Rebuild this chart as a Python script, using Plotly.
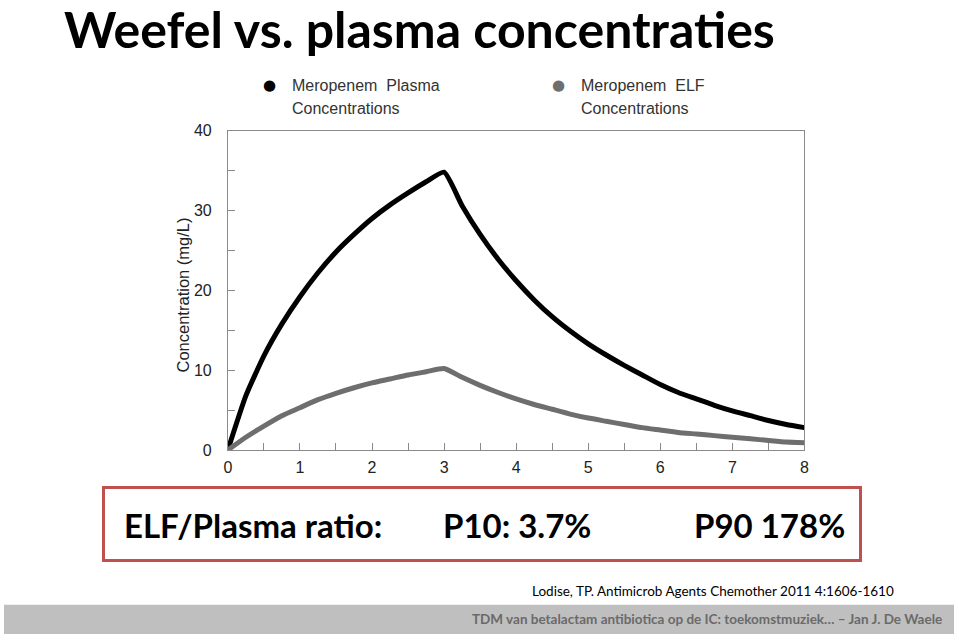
import plotly.graph_objects as go

W, H = 959, 643

# time grid (hours) and concentrations (mg/L)
hours = [0, 0.25, 0.5, 0.75, 1.0, 1.25, 1.5, 1.75, 2.0, 2.25, 2.5, 2.75, 3.0,
         3.25, 3.5, 3.75, 4.0, 4.25, 4.5, 4.75, 5.0, 5.25, 5.5, 5.75, 6.0,
         6.25, 6.5, 6.75, 7.0, 7.25, 7.5, 7.75, 8.0]
plasma = [0, 6.8, 11.8, 15.8, 19.2, 22.2, 24.8, 27.0, 29.0, 30.7, 32.2, 33.6, 34.8,
          30.6, 27.0, 23.9, 21.2, 18.8, 16.7, 14.9, 13.3, 11.9, 10.6, 9.4, 8.2,
          7.2, 6.4, 5.6, 4.9, 4.3, 3.7, 3.2, 2.8]
elf = [0, 1.6, 3.0, 4.3, 5.3, 6.3, 7.1, 7.8, 8.4, 8.9, 9.4, 9.8, 10.2,
       9.1, 8.1, 7.2, 6.4, 5.7, 5.1, 4.5, 4.0, 3.6, 3.2, 2.8, 2.5,
       2.2, 2.0, 1.8, 1.6, 1.4, 1.2, 1.0, 0.9]

x_ticks = [0, 1, 2, 3, 4, 5, 6, 7, 8]
y_ticks = [0, 10, 20, 30, 40]

title = "Weefel vs. plasma concentraties"
legend_lines = [["Meropenem  Plasma", "Concentrations"], ["Meropenem  ELF", "Concentrations"]]
ratio_texts = ["ELF/Plasma ratio:", "P10: 3.7%", "P90 178%"]
citation = "Lodise, TP. Antimicrob Agents Chemother 2011 4:1606-1610"
footer = "TDM van betalactam antibiotica op de IC: toekomstmuziek… – Jan J. De Waele"


def px(x, y):
    return x / W, 1 - y / H


fig = go.Figure()
fig.add_trace(go.Scatter(x=hours, y=plasma, mode="lines",
                         line=dict(color="#000000", width=5, shape="spline", smoothing=0.5),
                         showlegend=False))
fig.add_trace(go.Scatter(x=hours, y=elf, mode="lines",
                         line=dict(color="#6e6e6e", width=5, shape="spline", smoothing=0.5),
                         showlegend=False))

axis_common = dict(showgrid=False, zeroline=False, showline=True, mirror=True,
                   linecolor="#8a8a8a", linewidth=1, ticks="inside", ticklen=7,
                   tickcolor="#8a8a8a", tickwidth=1,
                   tickfont=dict(family="Liberation Sans, Arial", size=16, color="#222222"))

fig.update_layout(
    autosize=True,
    margin=dict(l=0, r=0, t=0, b=0),
    paper_bgcolor="white", plot_bgcolor="white",
    xaxis=dict(domain=[226 / W, 808 / W], range=[0, 8], tickvals=x_ticks,
               ticklabelstandoff=3,
               minor=dict(dtick=0.5, ticks="inside", ticklen=7, tickcolor="#8a8a8a"),
               **axis_common),
    yaxis=dict(domain=[1 - 454 / H, 1 - 126 / H], range=[0, 40], tickvals=y_ticks,
               ticklabelstandoff=12,
               minor=dict(dtick=5, ticks="inside", ticklen=7, tickcolor="#8a8a8a"),
               **axis_common),
)

ann = []
# slide title
x, y = px(59, 22)
ann.append(dict(x=x, y=y, text=f"<b>{title}</b>", xanchor="left", yanchor="middle",
                font=dict(family="Lato", size=50, color="#000000")))

# legend (dots + two-line labels)
for dot_x, txt_x, lines, col in [(268, 289, legend_lines[0], "#000000"),
                                 (560, 580, legend_lines[1], "#6e6e6e")]:
    x, y = px(dot_x, 79)
    ann.append(dict(x=x, y=y, text="●", xanchor="center", yanchor="middle",
                    font=dict(family="DejaVu Sans", size=15, color=col)))
    for line, ly in zip(lines, [80, 103]):
        x, y = px(txt_x, ly)
        ann.append(dict(x=x, y=y, text=line, xanchor="left", yanchor="middle",
                        font=dict(family="Liberation Sans, Arial", size=16, color="#333333")))

# y-axis title
x, y = px(181, 295)
ann.append(dict(x=x, y=y, text="Concentration (mg/L)", textangle=-90,
                xanchor="center", yanchor="middle",
                font=dict(family="Liberation Sans, Arial", size=16.5, color="#222222")))
# x-axis title (mostly hidden behind the red box)
x, y = px(517, 498)
ann.append(dict(x=x, y=y, text="Time (Hours)", xanchor="center", yanchor="middle",
                font=dict(family="Liberation Sans, Arial", size=16.5, color="#222222")))

# red ratio box
x, y = px(483, 530)
ann.append(dict(x=x, y=y, text=" ", width=754, height=70, borderpad=0,
                bordercolor="#c0504d", borderwidth=3, bgcolor="white",
                xanchor="center", yanchor="middle"))
for left, txt in zip([119, 441, 695], ratio_texts):
    x, y = px(left, 531)
    ann.append(dict(x=x, y=y, text=f"<b>{txt}</b>", xanchor="left", yanchor="middle",
                    font=dict(family="Lato", size=33, color="#000000")))

# citation
x, y = px(900, 599)
ann.append(dict(x=x, y=y, text=citation, xanchor="right", yanchor="middle",
                font=dict(family="Lato", size=13.5, color="#000000")))
# footer text
x, y = px(949, 628)
ann.append(dict(x=x, y=y, text=f"<b>{footer}</b>", xanchor="right", yanchor="middle",
                font=dict(family="Lato", size=13.5, color="#6a6a6a")))

for a in ann:
    a.update(xref="paper", yref="paper", showarrow=False)
fig.update_layout(annotations=ann)

# footer band
fig.add_shape(type="rect", xref="paper", yref="paper", x0=0, x1=1,
              y0=0, y1=1 - 613 / H, fillcolor="#bfbfbf", line_width=0, layer="below")

page_fix = (
    "var de=document.documentElement, b=document.body;"
    "de.style.height='100%'; de.style.overflow='hidden';"
    "b.style.height='100%'; b.style.margin='0'; b.style.overflow='hidden';"
    "b.firstElementChild.style.height='100%';"
    "Plotly.Plots.resize(document.getElementById('{plot_id}'));"
)
fig.write_html("out.html", default_width="100%", default_height="100%",
               config={"displayModeBar": False, "responsive": True},
               post_script=page_fix)
